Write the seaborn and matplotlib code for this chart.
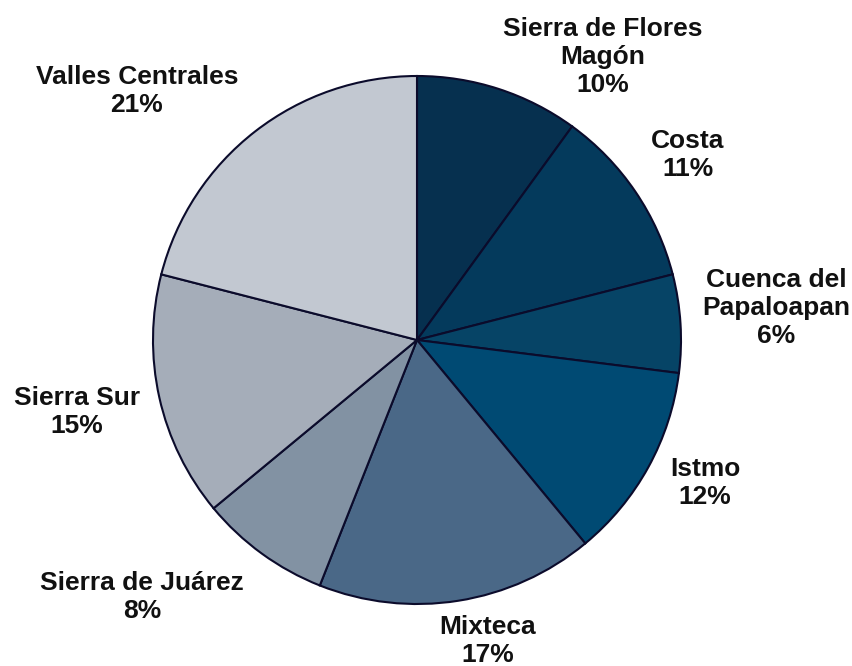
import matplotlib
matplotlib.use("Agg")
import matplotlib.pyplot as plt
import seaborn as sns

categories = ["Sierra de Flores\nMagón", "Costa", "Cuenca del\nPapaloapan", "Istmo",
              "Mixteca", "Sierra de Juárez", "Sierra Sur", "Valles Centrales"]
values = [10, 11, 6, 12, 17, 8, 15, 21]
colors = ["#06304F", "#043A5C", "#064466", "#004A73",
          "#4A6887", "#8292A3", "#A5ADB9", "#C2C8D1"]

sns.set_style("white")
plt.rcParams["font.family"] = ["Liberation Sans", "DejaVu Sans"]

W, H = 853, 666
fig = plt.figure(figsize=(W / 100, H / 100), dpi=100)
ax = fig.add_axes([0, 0, 1, 1])

cx, cy, R = 417, 340, 264
labels = [f"{c}\n{v}%" for c, v in zip(categories, values)]
wedges, texts = ax.pie(values, colors=colors, startangle=90, counterclock=False,
                       radius=1.0, labels=labels,
                       wedgeprops=dict(edgecolor="#0B0B2B", linewidth=1.5))

# label centres in pixel layout
label_px = [(603, 57), (688, 155), (776, 308), (705, 483),
            (488, 641), (142, 597), (77, 412), (137, 91)]
for t, (px, py) in zip(texts, label_px):
    t.set_position(((px - cx) / R, (cy - py) / R))
    t.set_ha("center")
    t.set_va("center")
    t.set_fontsize(19)
    t.set_fontweight("bold")
    t.set_linespacing(1.22)
    t.set_color("#111111")

ax.set_xlim(-cx / R, (W - cx) / R)
ax.set_ylim(-(H - cy) / R, cy / R)
ax.set_aspect("auto")
ax.axis("off")

fig.savefig("out.png", dpi=100)
